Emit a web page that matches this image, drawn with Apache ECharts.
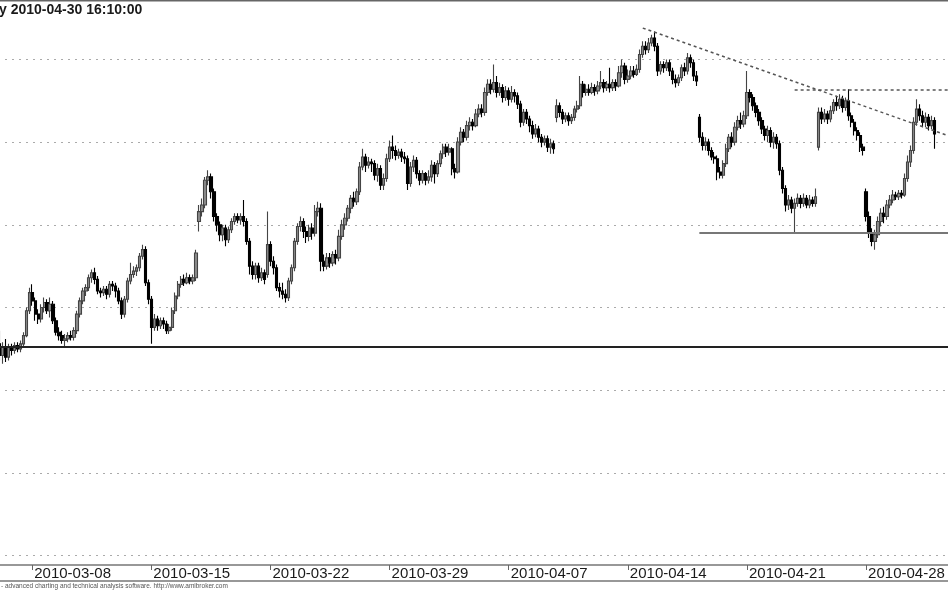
<!DOCTYPE html>
<html>
<head>
<meta charset="utf-8">
<style>
  html, body { margin: 0; padding: 0; background: #fff; }
  #main { width: 948px; height: 593px; }
</style>
<script src="https://cdn.jsdelivr.net/npm/echarts@6/dist/echarts.min.js"></script>
</head>
<body>
<div id="main"></div>
<script>
// trading sessions shown (hourly bars); the first day is only partly visible
var tradingDays = [
  '2010-03-04', '2010-03-05',
  '2010-03-08', '2010-03-09', '2010-03-10', '2010-03-11', '2010-03-12',
  '2010-03-15', '2010-03-16', '2010-03-17', '2010-03-18', '2010-03-19',
  '2010-03-22', '2010-03-23', '2010-03-24', '2010-03-25', '2010-03-26',
  '2010-03-29', '2010-03-30', '2010-03-31', '2010-04-01',
  '2010-04-06', '2010-04-07', '2010-04-08', '2010-04-09',
  '2010-04-12', '2010-04-13', '2010-04-14', '2010-04-15', '2010-04-16',
  '2010-04-19', '2010-04-20', '2010-04-21', '2010-04-22', '2010-04-23',
  '2010-04-26', '2010-04-27', '2010-04-28', '2010-04-29', '2010-04-30'
]
var firstDayHours = ['14:00', '15:00', '16:00']
var sessionHours = ['09:00', '10:00', '11:00', '12:00', '13:00', '14:00', '15:00', '16:00']
var tickDates = ['2010-03-08', '2010-03-15', '2010-03-22', '2010-03-29',
                 '2010-04-07', '2010-04-14', '2010-04-21', '2010-04-28']
var blankBarsRight = 5

// [open, close, low, high]
var bars = [
  [2378,2371,2368,2386],[2371,2376,2366,2379],[2376,2370,2367,2381],[2370,2376,2368,2378],
  [2376,2374,2371,2378],[2374,2377,2372,2379],[2377,2375,2373,2379],[2375,2378,2373,2380],
  [2378,2383,2376,2385],[2383,2398,2382,2400],[2398,2409,2396,2412],[2409,2404,2401,2414],
  [2404,2396,2392,2406],[2396,2393,2390,2399],[2393,2400,2391,2402],[2400,2403,2397,2406],
  [2403,2398,2396,2405],[2398,2402,2394,2406],[2402,2392,2390,2404],[2392,2385,2383,2394],
  [2385,2383,2380,2388],[2383,2380,2378,2386],[2380,2381,2376,2384],[2381,2383,2379,2385],
  [2383,2382,2380,2386],[2382,2386,2380,2388],[2386,2396,2384,2398],[2396,2404,2394,2406],
  [2404,2410,2402,2412],[2410,2412,2407,2414],[2412,2418,2410,2420],[2418,2421,2415,2423],
  [2421,2417,2414,2424],[2417,2410,2408,2419],[2410,2409,2406,2412],[2409,2411,2407,2413],
  [2411,2408,2405,2413],[2408,2414,2406,2416],[2414,2413,2410,2416],[2413,2410,2406,2415],
  [2410,2404,2402,2412],[2404,2396,2393,2406],[2396,2405,2394,2407],[2405,2416,2403,2418],
  [2416,2420,2414,2427],[2420,2422,2418,2425],[2422,2424,2419,2426],[2424,2431,2422,2433],
  [2431,2435,2429,2438],[2435,2415,2413,2437],[2415,2405,2402,2417],[2405,2388,2378,2407],
  [2388,2393,2386,2396],[2393,2389,2386,2395],[2389,2392,2387,2394],[2392,2390,2387,2394],
  [2390,2386,2384,2392],[2386,2388,2384,2390],[2388,2398,2386,2400],[2398,2407,2396,2409],
  [2407,2414,2405,2416],[2414,2417,2412,2419],[2417,2415,2413,2420],[2415,2418,2414,2421],
  [2418,2416,2414,2420],[2416,2418,2414,2420],[2418,2433,2416,2435],[2452,2458,2446,2462],
  [2458,2462,2455,2466],[2462,2477,2460,2479],[2477,2479,2474,2483],[2479,2470,2466,2481],
  [2470,2455,2452,2472],[2455,2450,2446,2457],[2450,2444,2440,2452],[2444,2448,2440,2450],
  [2448,2441,2437,2450],[2441,2447,2439,2449],[2447,2452,2445,2454],[2452,2455,2450,2457],
  [2455,2453,2451,2457],[2453,2455,2450,2457],[2455,2452,2449,2465],[2452,2440,2438,2454],
  [2440,2425,2420,2442],[2425,2420,2417,2428],[2420,2425,2417,2427],[2425,2418,2415,2427],
  [2418,2421,2416,2424],[2421,2417,2414,2423],[2420,2438,2418,2458],[2438,2428,2425,2440],
  [2428,2424,2420,2431],[2424,2412,2410,2426],[2412,2410,2406,2415],[2410,2408,2405,2415],
  [2408,2406,2403,2411],[2406,2416,2404,2418],[2416,2424,2414,2426],[2424,2440,2422,2442],
  [2440,2449,2438,2451],[2449,2452,2446,2455],[2452,2446,2442,2454],[2446,2443,2439,2449],
  [2443,2448,2440,2450],[2448,2445,2441,2451],[2445,2458,2443,2462],[2458,2460,2455,2464],
  [2460,2428,2422,2463],[2428,2425,2422,2432],[2425,2430,2423,2433],[2430,2427,2424,2433],
  [2427,2432,2425,2434],[2432,2430,2426,2435],[2430,2443,2428,2447],[2443,2450,2441,2453],
  [2450,2454,2447,2457],[2454,2460,2452,2462],[2460,2466,2457,2468],[2466,2464,2461,2470],
  [2464,2470,2462,2472],[2470,2485,2468,2488],[2485,2491,2483,2496],[2491,2486,2482,2493],
  [2486,2488,2484,2491],[2488,2487,2482,2490],[2487,2480,2477,2489],[2480,2484,2476,2487],
  [2484,2474,2471,2486],[2474,2478,2471,2481],[2478,2490,2476,2493],[2490,2497,2488,2501],
  [2497,2495,2490,2504],[2495,2492,2489,2498],[2492,2494,2490,2496],[2494,2491,2488,2496],
  [2491,2490,2487,2494],[2490,2475,2471,2492],[2475,2485,2473,2488],[2485,2489,2482,2492],
  [2489,2481,2478,2491],[2481,2477,2474,2483],[2477,2481,2475,2483],[2481,2477,2474,2482],
  [2477,2479,2475,2483],[2479,2486,2476,2489],[2486,2481,2475,2488],[2481,2487,2479,2489],
  [2487,2493,2485,2495],[2493,2497,2490,2499],[2497,2494,2491,2499],[2494,2496,2492,2499],
  [2496,2484,2480,2497],[2484,2482,2478,2487],[2482,2500,2481,2503],[2500,2506,2498,2509],
  [2506,2503,2500,2508],[2503,2510,2501,2513],[2510,2512,2507,2515],[2512,2510,2507,2514],
  [2510,2517,2509,2520],[2517,2520,2515,2523],[2520,2518,2515,2523],[2518,2530,2516,2533],
  [2530,2535,2528,2538],[2535,2532,2529,2538],[2532,2536,2530,2547],[2536,2530,2527,2540],
  [2530,2533,2528,2536],[2533,2527,2524,2535],[2527,2531,2525,2534],[2531,2526,2522,2533],
  [2526,2530,2524,2534],[2530,2528,2524,2532],[2528,2523,2520,2530],[2523,2512,2509,2525],
  [2512,2518,2510,2520],[2518,2514,2511,2520],[2514,2510,2506,2516],[2510,2505,2502,2513],
  [2505,2508,2503,2511],[2508,2503,2500,2510],[2503,2500,2497,2505],[2500,2502,2498,2504],
  [2502,2497,2494,2504],[2497,2499,2493,2502],[2499,2496,2493,2501],[2515,2522,2512,2526],
  [2522,2518,2515,2524],[2518,2514,2511,2520],[2514,2516,2512,2518],[2516,2513,2510,2518],
  [2513,2515,2511,2517],[2515,2520,2513,2522],[2520,2522,2518,2525],[2522,2535,2520,2540],
  [2535,2530,2527,2537],[2530,2532,2528,2535],[2532,2530,2528,2535],[2530,2533,2529,2536],
  [2533,2531,2528,2535],[2531,2534,2529,2537],[2534,2536,2532,2543],[2536,2533,2530,2538],
  [2533,2535,2531,2537],[2535,2533,2530,2545],[2533,2536,2531,2538],[2536,2534,2531,2538],
  [2534,2542,2533,2546],[2542,2546,2539,2550],[2546,2538,2535,2548],[2538,2540,2536,2544],
  [2540,2543,2538,2546],[2543,2541,2539,2546],[2541,2544,2540,2547],[2544,2553,2542,2556],
  [2553,2558,2551,2561],[2558,2556,2553,2561],[2556,2560,2554,2563],[2560,2563,2558,2565],
  [2563,2558,2555,2567],[2558,2543,2540,2560],[2543,2547,2541,2549],[2547,2545,2542,2549],
  [2545,2548,2543,2550],[2548,2543,2540,2550],[2543,2538,2535,2545],[2538,2536,2533,2541],
  [2536,2539,2534,2541],[2539,2545,2537,2547],[2545,2543,2540,2548],[2543,2551,2541,2554],
  [2551,2548,2545,2553],[2548,2540,2537,2550],[2540,2537,2534,2543],[2515,2503,2500,2517],
  [2503,2498,2495,2506],[2498,2500,2495,2503],[2500,2495,2492,2502],[2495,2491,2489,2497],
  [2491,2490,2487,2494],[2490,2482,2477,2492],[2482,2480,2478,2485],[2480,2487,2478,2489],
  [2487,2496,2485,2499],[2496,2503,2494,2505],[2503,2500,2497,2506],[2500,2509,2498,2512],
  [2509,2513,2507,2516],[2513,2511,2508,2518],[2511,2516,2509,2519],[2516,2530,2514,2543],
  [2530,2527,2524,2532],[2527,2522,2519,2529],[2522,2518,2515,2524],[2518,2513,2510,2520],
  [2513,2508,2505,2515],[2508,2504,2501,2510],[2504,2507,2500,2510],[2507,2500,2497,2509],
  [2500,2503,2496,2506],[2503,2499,2496,2505],[2499,2483,2480,2501],[2483,2472,2469,2485],
  [2472,2462,2458,2474],[2462,2465,2459,2468],[2465,2460,2457,2467],[2460,2463,2445,2466],
  [2463,2466,2461,2469],[2466,2463,2460,2468],[2463,2466,2461,2469],[2466,2462,2460,2468],
  [2462,2465,2460,2468],[2465,2463,2461,2467],[2463,2467,2461,2472],[2497,2518,2495,2521],
  [2518,2514,2511,2521],[2514,2517,2512,2520],[2517,2514,2511,2519],[2514,2519,2512,2522],
  [2519,2524,2517,2526],[2524,2522,2519,2528],[2522,2526,2520,2529],[2526,2521,2518,2528],
  [2521,2525,2519,2527],[2525,2516,2513,2532],[2516,2512,2509,2518],[2512,2507,2504,2514],
  [2507,2504,2501,2509],[2504,2497,2494,2506],[2497,2495,2492,2499],[2470,2455,2452,2472],
  [2455,2445,2442,2458],[2445,2440,2437,2448],[2440,2444,2435,2447],[2444,2452,2442,2455],
  [2452,2457,2449,2460],[2457,2455,2451,2461],[2455,2462,2453,2465],[2462,2465,2460,2468],
  [2465,2468,2463,2471],[2468,2467,2465,2470],[2467,2469,2465,2471],[2469,2468,2466,2471],
  [2468,2478,2467,2481],[2478,2488,2476,2492],[2488,2495,2485,2498],[2495,2512,2493,2515],
  [2512,2520,2510,2526],[2520,2516,2513,2523],[2516,2512,2509,2519],[2512,2515,2509,2518],
  [2515,2510,2507,2517],[2510,2513,2508,2516],[2513,2505,2496,2515]
]

// hand-drawn study lines: [bar index, price]
var supportLevel = 2376
var lowerSupport = [[235, 2445.5], [319, 2445.5]]
var resistance = [[267, 2532], [319, 2532]]
var trendLine = [[216, 2569], [319, 2503.6]]

var categories = []
tradingDays.forEach(function (d, k) {
    (k === 0 ? firstDayHours : sessionHours).forEach(function (h) {
        categories.push(d + ' ' + h)
    })
})
for (var b = 0; b < blankBarsRight; b++) categories.push('')

var labelIdx = tickDates.map(function (d) { return categories.indexOf(d + ' 09:00') })
function isLabel(i) { return labelIdx.indexOf(i) >= 0 }

function seg(pts, style) {
    return [{ coord: pts[0], lineStyle: style }, { coord: pts[1] }]
}

var chart = echarts.init(document.getElementById('main'))
var option = {
    animation: false,
    backgroundColor: '#fff',
    title: {
        text: 'y 2010-04-30 16:10:00',
        left: -1, top: 3, padding: 0,
        textStyle: { fontFamily: 'Liberation Sans', fontSize: 14, fontWeight: 'bold', color: '#1a1a1a' }
    },
    graphic: [
        { type: 'line', shape: { x1: 0, y1: 0.5, x2: 948, y2: 0.5 }, style: { stroke: '#666', lineWidth: 2 } },
        {
            type: 'text', left: 1, top: 583,
            style: {
                text: '- advanced charting and technical analysis software. http://www.amibroker.com',
                fontFamily: 'Liberation Sans', fontSize: 6.5, fill: '#555'
            }
        }
    ],
    grid: [
        { left: -2, right: -3, top: -23.17, height: 661.34, outerBoundsMode: 'none' },
        {
            left: -2, right: -3, top: 565, height: 16, outerBoundsMode: 'none',
            show: true, borderColor: '#777', borderWidth: 1.5, backgroundColor: '#fff'
        }
    ],
    xAxis: [
        { type: 'category', data: categories, gridIndex: 0, show: false },
        {
            type: 'category', data: categories, gridIndex: 1, position: 'top',
            axisLine: { show: false, onZero: false },
            axisTick: {
                show: true, inside: true, length: 5, alignWithLabel: true,
                interval: function (i) { return isLabel(i) },
                lineStyle: { color: '#666' }
            },
            axisLabel: {
                show: true, inside: true, margin: 1, align: 'left', padding: [0, 0, 0, 2],
                interval: function (i) { return isLabel(i) },
                hideOverlap: false,
                formatter: function (v) { return v.slice(0, 10) },
                fontFamily: 'Liberation Sans', fontSize: 15, color: '#1a1a1a'
            },
            splitLine: { show: false }
        }
    ],
    yAxis: [
        {
            type: 'value', gridIndex: 0, min: 2200, max: 2600, interval: 50,
            axisLine: { show: false }, axisTick: { show: false }, axisLabel: { show: false },
            splitLine: { show: true, lineStyle: { color: '#aaa', type: [2, 5], width: 1 } }
        },
        { type: 'value', gridIndex: 1, min: 0, max: 1, show: false, splitLine: { show: false } }
    ],
    series: [{
        type: 'candlestick',
        xAxisIndex: 0, yAxisIndex: 0,
        data: bars,
        barWidth: 2.8,
        itemStyle: {
            color: '#8c8c8c', borderColor: '#444',
            color0: '#000', borderColor0: '#000',
            borderWidth: 1.1
        },
        markLine: {
            silent: true,
            symbol: ['none', 'none'],
            label: { show: false },
            data: [
                { yAxis: supportLevel, lineStyle: { color: '#222', width: 2, type: 'solid' } },
                seg(lowerSupport, { color: '#777', width: 2, type: 'solid' }),
                seg(resistance, { color: '#555', width: 1.5, type: [3, 3] }),
                seg(trendLine, { color: '#555', width: 1.5, type: [3, 3] })
            ]
        }
    }]
}
chart.setOption(option)
</script>
</body>
</html>
